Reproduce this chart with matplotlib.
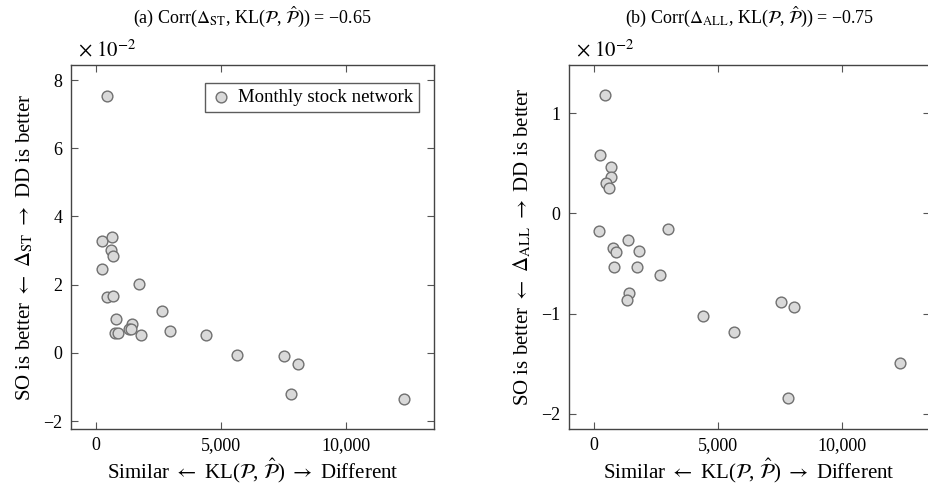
import matplotlib.pyplot as plt
from matplotlib.ticker import FuncFormatter

plt.rcParams['font.family'] = ['Liberation Serif', 'DejaVu Serif']
plt.rcParams['mathtext.fontset'] = 'stix'

# KL divergence (x) and performance gap (y, in units of 1e-2)
kl_st = [427, 253, 653, 587, 680, 227, 1733, 427, 693, 800, 760, 893,
         1440, 1320, 1400, 1813, 2653, 2973, 4400, 5627, 7533, 8067, 7813, 12333]
delta_st = [7.54, 3.28, 3.41, 3.02, 2.85, 2.46, 2.01, 1.65, 1.66, 1.00, 0.58, 0.59,
            0.85, 0.71, 0.69, 0.52, 1.23, 0.65, 0.52, -0.06, -0.09, -0.31, -1.20, -1.36]

kl_all = [453, 267, 693, 693, 480, 600, 227, 2987, 1400, 800, 907, 1827,
          813, 1747, 2667, 1440, 1333, 4400, 5653, 7547, 8080, 7827, 12347]
delta_all = [1.18, 0.58, 0.46, 0.36, 0.30, 0.25, -0.18, -0.16, -0.27, -0.34, -0.38, -0.37,
             -0.53, -0.53, -0.61, -0.79, -0.86, -1.02, -1.18, -0.88, -0.93, -1.84, -1.49]

fig = plt.figure(figsize=(9.29, 4.88), dpi=100)
ax1 = fig.add_axes([0.0764, 0.1209, 0.3907, 0.7459])
ax2 = fig.add_axes([0.6122, 0.1209, 0.3885, 0.7459])

L = r'${\leftarrow}$'
R = r'${\rightarrow}$'
xlabel = 'Similar ' + L + r' KL($\mathcal{P}$, $\hat{\mathcal{P}}$) ' + R + ' Different'
comma = FuncFormatter(lambda v, p: f'{int(v):,}')
minus = FuncFormatter(lambda v, p: f'{v:g}'.replace('-', '\u2212'))

panels = [
    (ax1, kl_st, delta_st, 'ST', '(a)', '0.65', (-2.23, 8.44), [-2, 0, 2, 4, 6, 8]),
    (ax2, kl_all, delta_all, 'ALL', '(b)', '0.75', (-2.15, 1.48), [-2, -1, 0, 1]),
]

for ax, xs, ys, sub, tag, corr, ylim, yticks in panels:
    ax.scatter(xs, ys, s=60, facecolor='#d9d9d9', edgecolor='#707070',
               linewidth=1.0, zorder=3, label='Monthly stock network')
    ax.set_xlim(-1000, 13520)
    ax.set_ylim(*ylim)
    ax.set_xticks([0, 5000, 10000])
    ax.set_yticks(yticks)
    ax.xaxis.set_major_formatter(comma)
    ax.yaxis.set_major_formatter(minus)
    ax.tick_params(direction='in', top=True, right=True, length=5,
                   width=0.8, color='#555555', labelsize=13, pad=6)
    for sp in ax.spines.values():
        sp.set_color('#444444')
        sp.set_linewidth(1.0)
    ax.set_xlabel(xlabel, fontsize=15, labelpad=2)
    ax.set_ylabel('SO is better ' + L + r' $\Delta_{\mathrm{%s}}$ ' % sub + R + ' DD is better',
                  fontsize=15, labelpad=6)
    ax.set_title(r'%s Corr($\Delta_{\mathrm{%s}}$, KL($\mathcal{P}$, $\hat{\mathcal{P}}$)) = ' % (tag, sub)
                 + '\u2212' + corr, fontsize=13, pad=30)
    ax.text(0.02, 1.01, r'$\times\ 10^{-2}$', transform=ax.transAxes,
            fontsize=15, ha='left', va='bottom')

leg = ax1.legend(loc='upper right', fontsize=13.5, frameon=True, fancybox=False,
                 handletextpad=0.3, borderpad=0.3, handlelength=1.2,
                 bbox_to_anchor=(0.985, 0.975))
leg.get_frame().set_edgecolor('#333333')
leg.get_frame().set_linewidth(1.0)

fig.savefig('out.png', dpi=100)
